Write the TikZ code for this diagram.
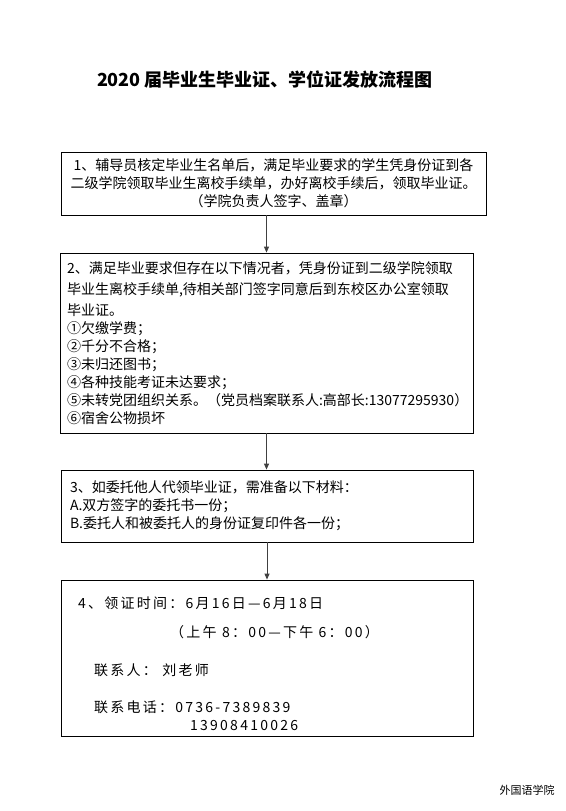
\documentclass[tikz,border=0pt]{standalone}
\usepackage{fontspec}
\setmainfont{Noto Sans CJK SC}
\newfontfamily\widefont[LetterSpace=16]{Noto Sans CJK SC}
\usetikzlibrary{arrows.meta, positioning}
\tikzset{
	flowbox/.style={
			draw=black,
			line width=0.8pt,
			inner sep=0pt,
			font=\fontsize{14}{18}\selectfont
		},
	flowarrow/.style={
			draw=black!75,
			line width=1pt,
			-{Triangle[length=6pt,width=5pt]}
		},
	infotext/.style={
			anchor=base west,
			inner sep=0pt,
			font=\widefont\fontsize{14}{18}\selectfont
		}
}

\begin{document}
\begin{tikzpicture}[x=1pt, y=-1pt]
\useasboundingbox (0,0) rectangle (565,811);
\node[font=\bfseries\fontsize{18}{22}\selectfont] (title) at (265,80) {2020 届毕业生毕业证、学位证发放流程图};

\node[flowbox, minimum width=425pt, minimum height=63pt, align=center] (box1) at (273.5,183.5)
  {1、辅导员核定毕业生名单后，满足毕业要求的学生凭身份证到各\\二级学院领取毕业生离校手续单，办好离校手续后，领取毕业证。\\（学院负责人签字、盖章）};

\node[flowbox, text width=399pt, inner xsep=7pt, minimum height=180pt, align=left] (box2) at (266.5,343)
  {2、满足毕业要求但存在以下情况者，凭身份证到二级学院领取\\[3pt]毕业生离校手续单,待相关部门签字同意后到东校区办公室领取\\[3pt]毕业证。\\①欠缴学费；\\②千分不合格；\\③未归还图书；\\④各种技能考证未达要求；\\⑤未转党团组织关系。（党员档案联系人:高部长:13077295930）\\⑥宿舍公物损坏};

\node[flowbox, text width=394pt, inner xsep=9pt, minimum height=72pt, align=left] (box3) at (267,506)
  {3、如委托他人代领毕业证，需准备以下材料：\\A.双方签字的委托书一份；\\B.委托人和被委托人的身份证复印件各一份；};

\node[flowbox, minimum width=412pt, minimum height=156pt] (box4) at (267,658) {};
\node[infotext] (time) at (78,608) {4、领证时间：6月16日—6月18日};
\node[infotext] (hours) at (170,637) {（上午 8：00—下午 6：00）};
\node[infotext] (contact) at (94,675) {联系人：\ 刘老师};
\node[infotext] (phone) at (94,712) {联系电话：0736-7389839};
\node[infotext] (mobile) at (190,730) {13908410026};

\draw[flowarrow] (box1.south -| box2.north) -- (box2.north);
\draw[flowarrow] (box2.south) -- (box3.north -| box2.south);
\draw[flowarrow] (box3.south) -- (box4.north);

\node[anchor=west, font=\fontsize{11}{13}\selectfont] (school) at (496,790) {外国语学院};
\end{tikzpicture}
\end{document}
